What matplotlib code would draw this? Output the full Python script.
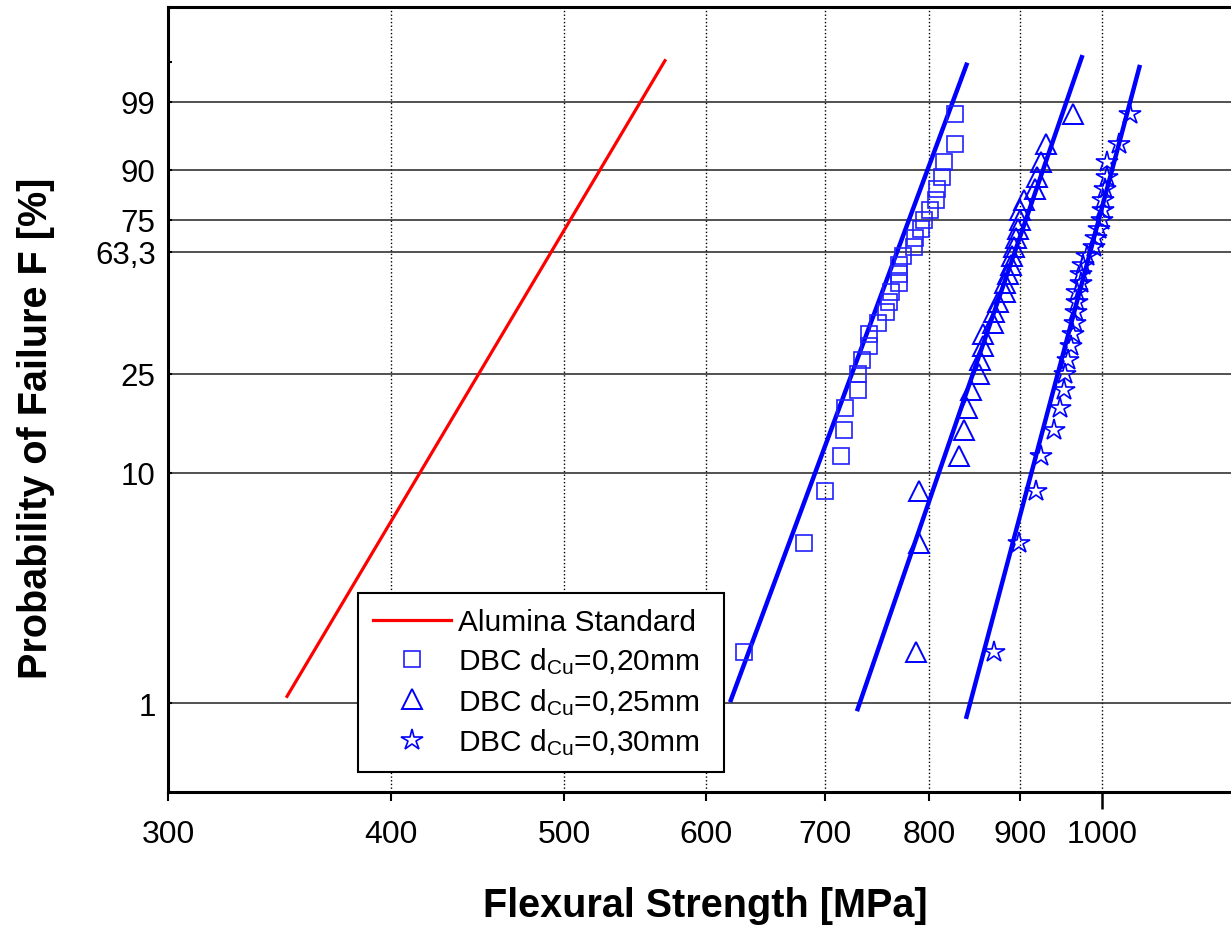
import numpy as np
import matplotlib
matplotlib.use('Agg')
import matplotlib.pyplot as plt
from matplotlib.ticker import FixedLocator, FixedFormatter

plt.rcParams['font.family'] = ['Liberation Sans', 'DejaVu Sans']
plt.rcParams['mathtext.fontset'] = 'custom'
plt.rcParams['mathtext.rm'] = 'Liberation Sans'
plt.rcParams['mathtext.it'] = 'Liberation Sans'

# median ranks (i-0.5)/n in percent, n = 30 specimens per series
F_rank = [1.67, 5.0, 8.33, 11.67, 15.0, 18.33, 21.67, 25.0, 28.33, 31.67,
          35.0, 38.33, 41.67, 45.0, 48.33, 51.67, 55.0, 58.33, 61.67, 65.0,
          68.33, 71.67, 75.0, 78.33, 81.67, 85.0, 88.33, 91.67, 95.0, 98.33]

# measured strengths [MPa]
s_020 = [630, 681, 700, 714, 717, 718, 730, 730, 734, 741, 741, 749, 757, 760, 762,
         770, 770, 770, 774, 785, 786, 792, 795, 801, 807, 809, 814, 816, 828, 828]
s_025 = [787, 790, 790, 832, 837, 840, 845, 853, 855, 858, 858, 869, 870, 875, 883,
         883, 886, 889, 891, 893, 895, 898, 900, 900, 905, 917, 920, 925, 931, 963]
s_030 = [870, 899, 919, 925, 940, 948, 953, 954, 957, 961, 963, 966, 967, 968, 969,
         973, 973, 976, 981, 990, 993, 997, 1000, 1001, 1002, 1004, 1007, 1007, 1022, 1037]

# Weibull fit lines (end points)
alumina_x = [349.7, 569.3]
alumina_F = [1.07, 99.91]
fit020_x = [619.8, 839.9]
fit020_F = [1.03, 99.88]
fit025_x = [729.9, 974.5]
fit025_F = [0.94, 99.93]
fit030_x = [839.9, 1049.7]
fit030_F = [0.87, 99.86]

x_minor_ticks = [300, 400, 500, 600, 700, 800, 900]
x_major_ticks = [1000]
y_ticks = [1, 10, 25, 63.3, 75, 90, 99]
y_tick_labels = ['1', '10', '25', '63,3', '75', '90', '99']


# Weibull probability scale, F in percent
def weib_fwd(p):
    p = np.clip(np.asarray(p, dtype=float), 1e-9, 100 - 1e-9)
    return np.log(-np.log(1 - p / 100.0))


def weib_inv(w):
    return 100.0 * (1 - np.exp(-np.exp(np.asarray(w, dtype=float))))


fig = plt.figure(figsize=(12.31, 9.28), dpi=100)
ax = fig.add_axes([0.1366, 0.1455, 0.8733, 0.8459])
ax.set_xscale('log')
ax.set_yscale('function', functions=(weib_fwd, weib_inv))

ax.plot(alumina_x, alumina_F, color='red', lw=2.3, label='Alumina Standard', zorder=3)
ax.plot(fit020_x, fit020_F, color='blue', lw=3.2, zorder=3)
ax.plot(fit025_x, fit025_F, color='blue', lw=3.2, zorder=3)
ax.plot(fit030_x, fit030_F, color='blue', lw=3.2, zorder=3)

ax.plot(s_020, F_rank, ls='none', marker='s', ms=12, mfc='none', mec='#2020ff', mew=1.2,
        label=r'DBC d$_{\mathrm{Cu}}$=0,20mm', zorder=4)
ax.plot(s_025, F_rank, ls='none', marker='^', ms=15, mfc='none', mec='blue', mew=1.4,
        label=r'DBC d$_{\mathrm{Cu}}$=0,25mm', zorder=4)
ax.plot(s_030, F_rank, ls='none', marker='*', ms=16, mfc='none', mec='blue', mew=1.2,
        label=r'DBC d$_{\mathrm{Cu}}$=0,30mm', zorder=4)

ax.set_xlim(300, 1200)
ax.set_ylim(weib_inv(-5.507), weib_inv(2.495))

# 300..900 are labelled minor ticks, 1000 is the only major decade tick
ax.xaxis.set_major_locator(FixedLocator(x_major_ticks))
ax.xaxis.set_major_formatter(FixedFormatter([str(v) for v in x_major_ticks]))
ax.xaxis.set_minor_locator(FixedLocator(x_minor_ticks))
ax.xaxis.set_minor_formatter(FixedFormatter([str(v) for v in x_minor_ticks]))
ax.yaxis.set_major_locator(FixedLocator(y_ticks))
ax.yaxis.set_major_formatter(FixedFormatter(y_tick_labels))
ax.yaxis.set_minor_locator(FixedLocator([99.9]))

ax.tick_params(axis='x', which='major', direction='out', length=12, width=1.8,
               labelsize=23, pad=7.5)
ax.tick_params(axis='x', which='minor', direction='out', length=6.5, width=1.5,
               labelsize=23, pad=13)
ax.tick_params(axis='y', which='both', direction='in', length=3, width=1.5,
               labelsize=22.5, pad=9)

ax.grid(True, axis='x', which='both', linestyle=':', color='black', lw=1.0)
ax.grid(True, axis='y', which='major', linestyle='-', color='#222222', lw=1.1)
ax.set_axisbelow(True)

for sp in ax.spines.values():
    sp.set_linewidth(2.2)

ax.set_xlabel('Flexural Strength [MPa]', fontsize=28.5, fontweight='bold')
ax.xaxis.set_label_coords(0.5, -0.12)
ax.set_ylabel('Probability of Failure F [%]', fontsize=28.5, fontweight='bold')
ax.yaxis.set_label_coords(-0.105, 0.465)

leg = ax.legend(loc='lower left', bbox_to_anchor=(358 / 1231, 155 / 928, 366 / 1231, 0),
                bbox_transform=fig.transFigure, mode='expand', fontsize=21.5, numpoints=1,
                fancybox=False, edgecolor='black', framealpha=1,
                handlelength=2.6, handletextpad=0.25, labelspacing=0.32,
                borderpad=0.5, borderaxespad=0)
leg.get_frame().set_linewidth(1.5)

fig.savefig('out.png', dpi=100)
